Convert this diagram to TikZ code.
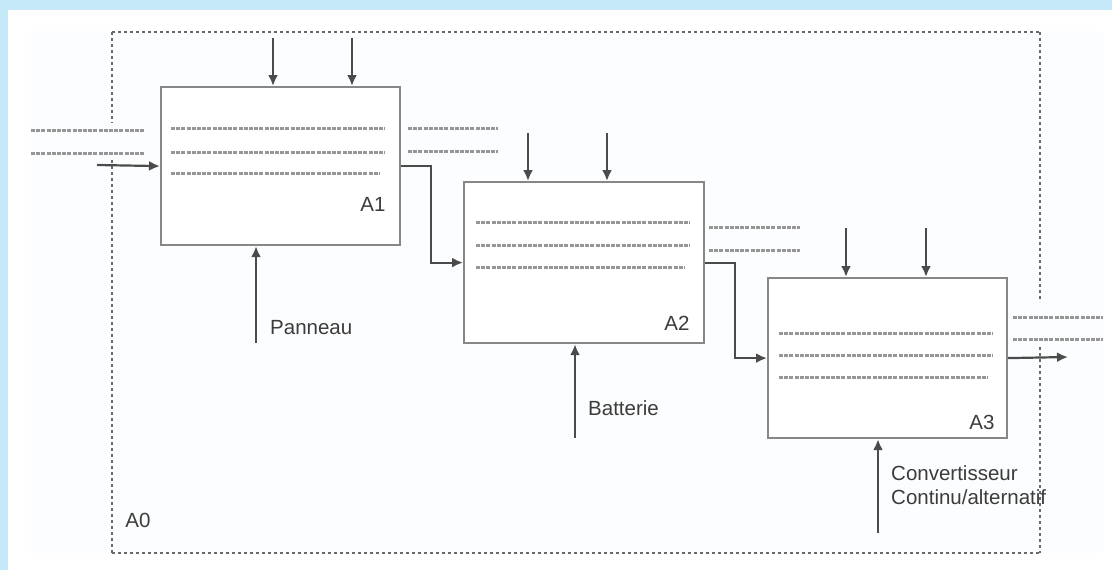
\documentclass[tikz,border=0pt]{standalone}
\usepackage{fontspec}
\setmainfont{Liberation Sans}
\usetikzlibrary{arrows.meta}
\definecolor{bgblue}{RGB}{198,233,249}
\definecolor{paper}{RGB}{252,253,254}
\definecolor{boxgray}{RGB}{135,135,135}
\definecolor{arrgray}{RGB}{75,75,75}
\definecolor{dotgray}{RGB}{150,150,150}
\definecolor{framegray}{RGB}{105,105,105}
\definecolor{txtgray}{RGB}{60,60,60}
\tikzset{
  actbox/.style={draw=boxgray, line width=2.2pt, fill=white, inner sep=0pt, anchor=north west},
  conn/.style={draw=arrgray, line width=2.2pt, -{Latex[length=11pt,width=10pt]}},
  dotline/.style={draw=dotgray, line width=3pt, dash pattern=on 4pt off 1.2pt},
  frameline/.style={draw=framegray, line width=2pt, dash pattern=on 3pt off 3pt},
  lbl/.style={font=\fontsize{20.5}{24}\selectfont, text=txtgray, inner sep=0pt, anchor=west},
  actlbl/.style={font=\fontsize{20.5}{24}\selectfont, text=txtgray, inner sep=0pt},
}
\begin{document}
\begin{tikzpicture}[x=1pt,y=-1pt]
\useasboundingbox (0,0) rectangle (1112,570);
% background
\fill[white] (0,0) rectangle (1112,570);
\fill[bgblue] (0,0) rectangle (1112,10);
\fill[bgblue] (0,0) rectangle (8,570);
\fill[paper] (31,31) rectangle (1103,553);
% A0 frame
\draw[frameline] (112,32) -- (1040,32);
\draw[frameline] (112,553) -- (1040,553);
\draw[frameline] (112,32) -- (112,123);
\draw[frameline] (112,160) -- (112,553);
\draw[frameline] (1040,32) -- (1040,302);
\draw[frameline] (1040,347) -- (1040,553);
\node[actlbl] (a0) at (138,520) {A0};
% boxes
\node[actbox, minimum width=239pt, minimum height=158pt] (A1) at (160,86) {};
\node[actbox, minimum width=240pt, minimum height=161pt] (A2) at (463,181) {};
\node[actbox, minimum width=239pt, minimum height=160pt] (A3) at (767,277) {};
\node[actlbl] (a1l) at (373,204) {A1};
\node[actlbl] (a2l) at (677,323) {A2};
\node[actlbl] (a3l) at (982,422) {A3};
% inner lines
\draw[dotline] (171,128) -- (385,128);
\draw[dotline] (171,152) -- (385,152);
\draw[dotline] (171,173) -- (380,173);
\draw[dotline] (476,222) -- (690,222);
\draw[dotline] (476,245) -- (690,245);
\draw[dotline] (476,267) -- (685,267);
\draw[dotline] (779,333) -- (993,333);
\draw[dotline] (779,355) -- (993,355);
\draw[dotline] (779,377) -- (988,377);
% dotted side lines
\draw[dotline] (31,130) -- (145,130);
\draw[dotline] (31,153) -- (145,153);
\draw[dotline] (408,128) -- (498,128);
\draw[dotline] (408,151) -- (498,151);
\draw[dotline] (709,227) -- (800,227);
\draw[dotline] (709,250) -- (800,250);
\draw[dotline] (1013,317) -- (1103,317);
\draw[dotline] (1013,339) -- (1103,339);
% free ends
\coordinate (in1) at (97,165);
\coordinate (t1a) at (273,38);
\coordinate (t1b) at (352,38);
\coordinate (t2a) at (528,133);
\coordinate (t2b) at (607,133);
\coordinate (t3a) at (846,228);
\coordinate (t3b) at (926,228);
\coordinate (b1) at (256,343);
\coordinate (b2) at (575,438);
\coordinate (b3) at (878,533);
\coordinate (out3) at (1068,357);
% connectors
\draw[conn] (in1) -- (A1.west);
\draw[conn] (t1a) -- (t1a |- A1.north);
\draw[conn] (t1b) -- (t1b |- A1.north);
\draw[conn] (t2a) -- (t2a |- A2.north);
\draw[conn] (t2b) -- (t2b |- A2.north);
\draw[conn] (t3a) -- (t3a |- A3.north);
\draw[conn] (t3b) -- (t3b |- A3.north);
\draw[conn] (b1) -- (b1 |- A1.south);
\draw[conn] (b2) -- (b2 |- A2.south);
\draw[conn] (b3) -- (b3 |- A3.south);
\draw[conn] (A1.east) -- (431,0 |- A1.east) -- (431,0 |- A2.west) -- (A2.west);
\draw[conn] (A2.east) -- (735,0 |- A2.east) -- (735,0 |- A3.west) -- (A3.west);
\draw[conn] (A3.east) -- (out3);
% labels
\node[lbl] (pan) at (270,328) {Panneau};
\node[lbl] (bat) at (588,408) {Batterie};
\node[lbl] (conv) at (891,473) {Convertisseur};
\node[lbl] (cont) at (891,497) {Continu/alternatif};
\end{tikzpicture}
\end{document}
